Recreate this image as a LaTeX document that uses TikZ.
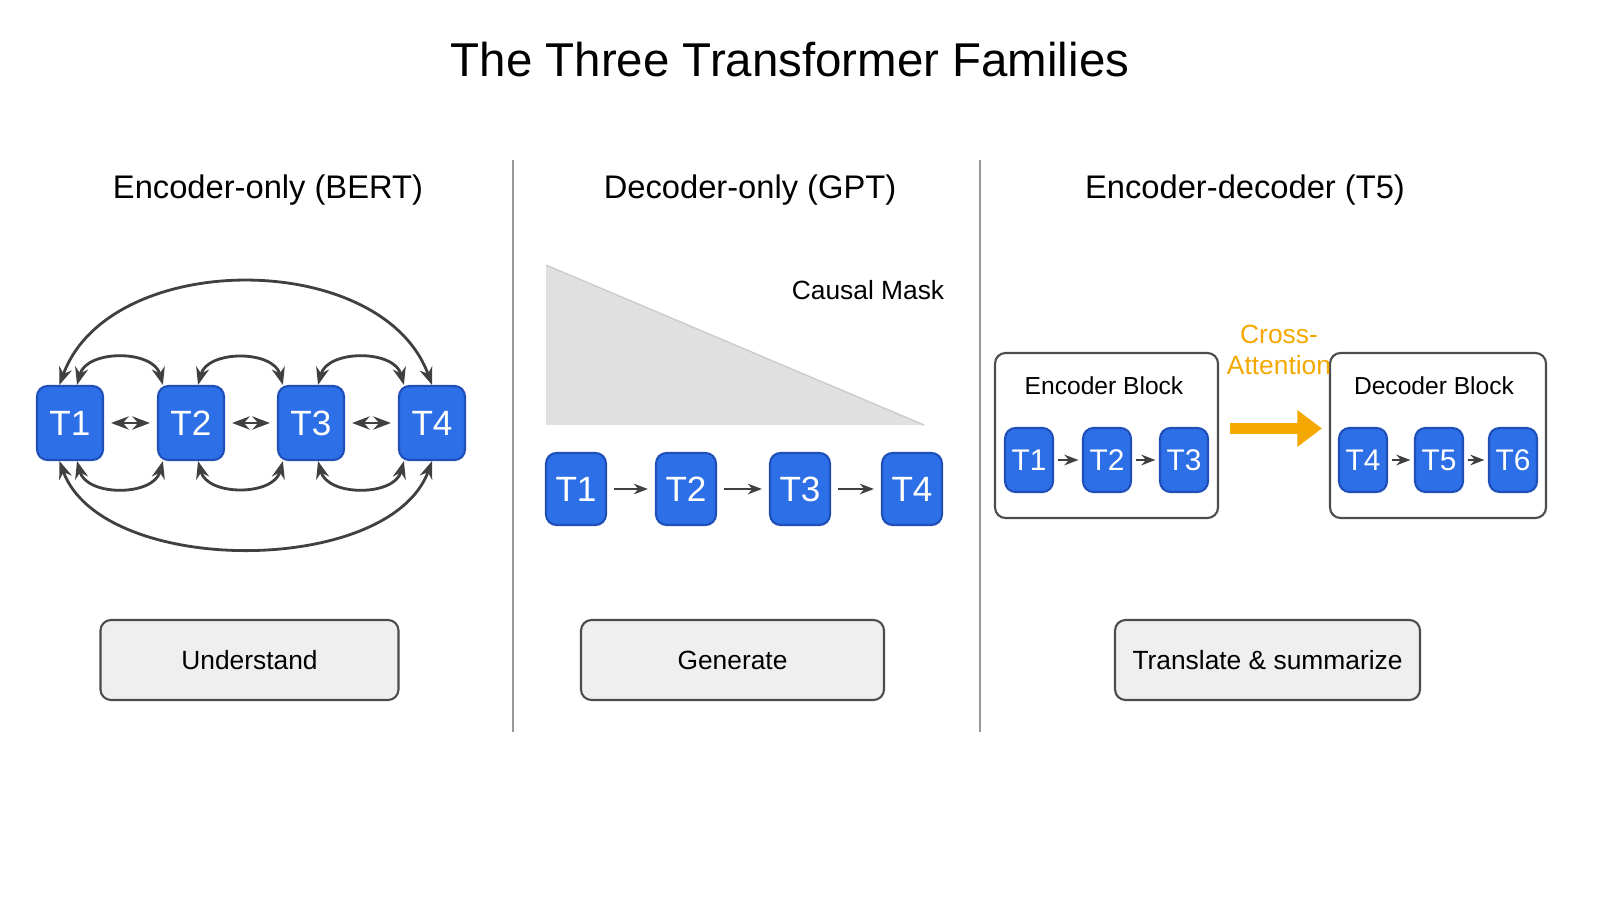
\documentclass[tikz,border=0pt]{standalone}
\usepackage{fontspec}
\setmainfont{Liberation Sans}
\usetikzlibrary{arrows.meta,calc}
\definecolor{tokblue}{HTML}{2D6FE6}
\definecolor{tokedge}{HTML}{1F4FB8}
\definecolor{boxgray}{HTML}{EFEFEF}
\definecolor{xorange}{HTML}{F5A800}
\tikzset{
  tok/.style={rounded corners=3pt,fill=tokblue,draw=tokedge,line width=0.6pt,text=white,font=\fontsize{10}{12}\selectfont,inner sep=0pt},
  task/.style={rounded corners=3pt,fill=boxgray,draw=black!70,line width=0.6pt,minimum width=2.98cm,minimum height=0.8cm,font=\fontsize{7.5}{9}\selectfont},
  block/.style={rounded corners=3pt,draw=black!70,line width=0.6pt,fill=white},
  head/.style={font=\fontsize{9.3}{11}\selectfont},
  arc/.style={draw=black!75,line width=0.8pt,{Stealth[length=5pt]}-{Stealth[length=5pt]}},
  nextarrow/.style={draw=black!75,line width=0.8pt,-{Stealth[length=4pt]}}
}
\begin{document}
\begin{tikzpicture}
\useasboundingbox (0,0) rectangle (16,9);
\fill[white] (0,0) rectangle (16,9);
\node[font=\fontsize{13.5}{16}\selectfont] (title) at (7.9,8.4) {The Three Transformer Families};
% dividers
\draw[black!40,line width=0.6pt] (5.13,7.4) -- (5.13,1.68);
\draw[black!40,line width=0.6pt] (9.80,7.4) -- (9.80,1.68);

% encoder-only
\node[head] (h1) at (2.68,7.1) {Encoder-only (BERT)};
\foreach \i/\x in {1/0.70,2/1.91,3/3.11,4/4.32}{
\node[tok,minimum width=0.66cm,minimum height=0.74cm] (e\i) at (\x,4.77) {T\i};
}
\foreach \a/\b in {1/2,2/3,3/4}{
\draw[arc,shorten <=2pt,shorten >=2pt] (e\a) -- (e\b);
\draw[arc] ([xshift=2pt]e\a.north) to[out=75,in=105,looseness=1.1] ([xshift=-8pt]e\b.north);
\draw[arc] ([xshift=2pt]e\a.south) to[out=-75,in=-105,looseness=1.1] ([xshift=-8pt]e\b.south);
}
\draw[arc] ([xshift=-3pt]e1.north) to[out=70,in=110,looseness=1.0] (e4.north);
\draw[arc] ([xshift=-3pt]e1.south) to[out=-70,in=-110,looseness=0.85] (e4.south);
\node[task] (u) at (2.495,2.4) {Understand};

% decoder-only
\node[head] (h2) at (7.5,7.1) {Decoder-only (GPT)};
\coordinate (m1) at (5.46,6.35);
\coordinate (m2) at (5.46,4.75);
\coordinate (m3) at (9.24,4.75);
\fill[black!12] (m1) -- (m2) -- (m3) -- cycle;
\draw[black!20,line width=0.4pt] (m1) -- (m3);
\node[font=\fontsize{7.5}{9}\selectfont] (mask) at (8.68,6.1) {Causal Mask};
\foreach \i/\x in {1/5.76,2/6.86,3/8.00,4/9.12}{
\node[tok,minimum width=0.6cm,minimum height=0.72cm] (d\i) at (\x,4.11) {T\i};
}
\foreach \a/\b in {1/2,2/3,3/4}{
\draw[nextarrow,shorten <=2pt,shorten >=2pt] (d\a) -- (d\b);
}
\node[task,minimum width=3.03cm] (g) at (7.325,2.4) {Generate};

% encoder-decoder
\node[head] (h3) at (12.45,7.1) {Encoder-decoder (T5)};
\node[block,minimum width=2.23cm,minimum height=1.65cm] (eb) at (11.065,4.645) {};
\node[font=\fontsize{7}{9}\selectfont] (ebl) at (11.04,5.14) {Encoder Block};
\node[block,minimum width=2.16cm,minimum height=1.65cm] (db) at (14.38,4.645) {};
\node[font=\fontsize{7}{9}\selectfont] (dbl) at (14.34,5.14) {Decoder Block};
\foreach \i/\x in {1/10.29,2/11.07,3/11.84}{
\node[tok,minimum width=0.48cm,minimum height=0.64cm,font=\fontsize{8.5}{10}\selectfont] (x\i) at (\x,4.40) {T\i};
}
\foreach \i/\x in {4/13.63,5/14.39,6/15.13}{
\node[tok,minimum width=0.48cm,minimum height=0.64cm,font=\fontsize{8.5}{10}\selectfont] (x\i) at (\x,4.40) {T\i};
}
\foreach \a/\b in {1/2,2/3,4/5,5/6}{
\draw[nextarrow,shorten <=1pt,shorten >=1pt] (x\a) -- (x\b);
}
\draw[xorange,line width=3pt,-{Triangle[length=7pt,width=10pt]}] ([xshift=3pt,yshift=2pt]eb.east) -- ([xshift=-2pt,yshift=2pt]db.west);
\node[text=xorange,font=\fontsize{7.5}{9}\selectfont,align=center] (ca) at (12.79,5.5) {Cross-\\Attention};
\node[task,minimum width=3.05cm] (ts) at (12.675,2.4) {Translate \& summarize};
\end{tikzpicture}
\end{document}
